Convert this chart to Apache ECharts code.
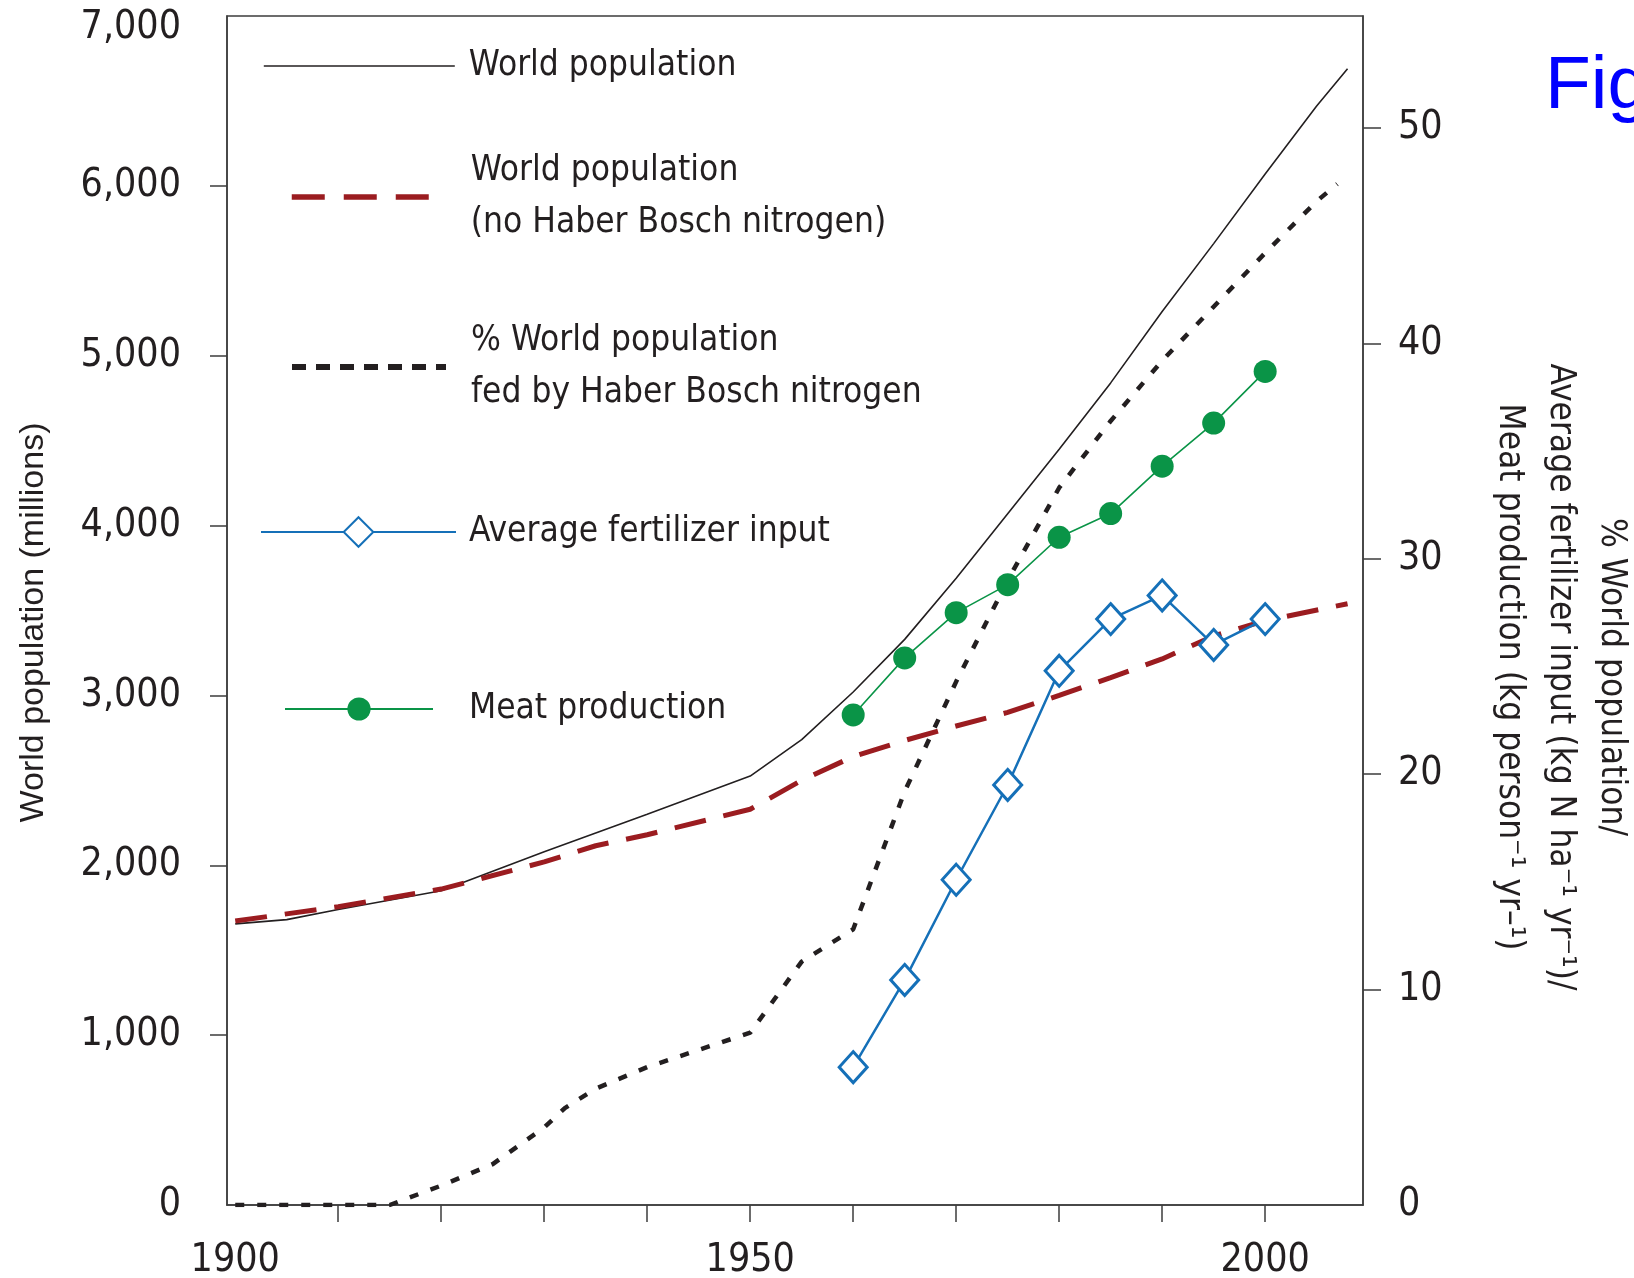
<!DOCTYPE html>
<html>
<head>
<meta charset="utf-8">
<script src="https://cdn.jsdelivr.net/npm/echarts@6/dist/echarts.min.js"></script>
<style>
html,body{margin:0;padding:0;background:#fff;}
#chart{width:1634px;height:1278px;}
</style>
</head>
<body>
<div id="chart"></div>
<script>
// ---- data ----
const popYears = [1900,1905,1910,1920,1930,1935,1940,1950,1955,1960,1965,1970,1975,1980,1985,1990,1995,2000,2005,2008];
const popValues = [1655,1680,1740,1850,2080,2190,2300,2525,2740,3020,3330,3690,4070,4450,4840,5260,5660,6070,6470,6690];

const noHBYears = [1900,1910,1920,1930,1935,1940,1950,1955,1960,1965,1970,1975,1980,1985,1990,1995,2000,2008];
const noHBValues = [1672,1756,1860,2020,2115,2180,2330,2500,2640,2735,2820,2900,3000,3105,3215,3350,3440,3540];

const hbYears = [1900,1915,1920,1925,1930,1932,1935,1940,1945,1950,1955,1960,1965,1970,1975,1980,1985,1990,1995,2000,2005,2007];
const hbValues = [0,0,0.9,1.9,3.6,4.5,5.4,6.4,7.2,8.0,11.3,12.8,19.2,24.3,29.0,33.3,36.4,39.2,41.7,44.2,46.6,47.4];

const fertYears = [1960,1965,1970,1975,1980,1985,1990,1995,2000];
const fertValues = [6.4,10.45,15.1,19.5,24.8,27.2,28.3,26.0,27.2];

const meatYears = [1960,1965,1970,1975,1980,1985,1990,1995,2000];
const meatValues = [22.75,25.4,27.5,28.8,31.0,32.1,34.3,36.3,38.7];

const xTickValues = [1910,1920,1930,1940,1950,1960,1970,1980,1990,2000];
const xLabelValues = [1900,1950,2000];
const leftTickValues = [1000,2000,3000,4000,5000,6000];
const leftLabelValues = [0,1000,2000,3000,4000,5000,6000,7000];
const rightTickValues = [10,20,30,40,50];
const rightLabelValues = [0,10,20,30,40,50];

const seriesNames = [
  'World population',
  'World population\n(no Haber Bosch nitrogen)',
  '% World population\nfed by Haber Bosch nitrogen',
  'Average fertilizer input',
  'Meat production'
];

// ---- style ----
const NARROW = "'Liberation Sans Narrow','DejaVu Sans Condensed',sans-serif";
const TXT = '#231f20';
const AX = '#3c3c3c';
const RED = '#9b1c20';
const BLUE = '#1570b8';
const GREEN = '#0a9447';

const pairs = (xs, ys) => xs.map((x, i) => [x, ys[i]]);

function legendFor(name, left, top, w, h, gap, extra) {
  return Object.assign({
    show: true, orient: 'vertical', left: left, top: top, padding: 0,
    itemWidth: w, itemHeight: h, selectedMode: false,
    data: [name],
    textStyle: {fontFamily: NARROW, fontSize: 35, color: TXT, lineHeight: 52,
      padding: [0, 0, 0, gap - 5]}
  }, extra || {});
}

const chart = echarts.init(document.getElementById('chart'), null, {renderer: 'canvas'});
chart.setOption({
  backgroundColor: '#fff',
  animation: false,
  grid: {left: 227, top: 16, right: 271, bottom: 73, containLabel: false, outerBoundsMode: 'none',
    show: true, borderColor: AX, borderWidth: 1.5, backgroundColor: 'transparent'},
  legend: [
    legendFor(seriesNames[0], 263, 40, 191, 20, 14, {itemStyle: {opacity: 0}, lineStyle: {width: 1.6}}),
    legendFor(seriesNames[1], 289, 145, 140, 20, 39, {itemStyle: {opacity: 0}, lineStyle: {width: 5.5, type: [33, 19]}}),
    legendFor(seriesNames[2], 289, 315, 154, 20, 25, {itemStyle: {opacity: 0}, lineStyle: {width: 6, type: [14, 10]}}),
    legendFor(seriesNames[3], 260, 506, 195, 37, 13),
    legendFor(seriesNames[4], 284, 683, 148, 29, 36)
  ],
  xAxis: {
    type: 'value', min: 1899.2, max: 2009.5,
    splitLine: {show: false},
    axisLine: {show: true, onZero: false, lineStyle: {color: AX, width: 1.5}},
    axisTick: {show: true, inside: false, length: 17, customValues: xTickValues, lineStyle: {color: AX, width: 1.5}},
    axisLabel: {customValues: xLabelValues, margin: 36, fontFamily: NARROW, fontSize: 39, color: TXT,
      formatter: v => String(v)}
  },
  yAxis: [
    {
      type: 'value', min: 0, max: 7000, interval: 1000, position: 'left',
      name: 'World population (millions)', nameLocation: 'middle', nameGap: 176, nameRotate: 90,
      nameTextStyle: {fontFamily: "'Liberation Sans',Arial,sans-serif", fontSize: 34, color: TXT,
        padding: [0, 24, 0, 0]},
      splitLine: {show: false},
      axisLine: {show: true, lineStyle: {color: AX, width: 1.5}},
      axisTick: {show: true, inside: false, length: 17, customValues: leftTickValues, lineStyle: {color: AX, width: 1.5}},
      axisLabel: {customValues: leftLabelValues, margin: 46, fontFamily: NARROW, fontSize: 39, color: TXT,
        formatter: v => v === 7000 ? '{t|7,000}' : echarts.format.addCommas(v),
        rich: {t: {fontFamily: NARROW, fontSize: 39, color: TXT, padding: [24, 0, 0, 0]}}}
    },
    {
      type: 'value', min: 0, max: 55.2, interval: 10, position: 'right',
      splitLine: {show: false},
      axisLine: {show: true, lineStyle: {color: AX, width: 1.5}},
      axisTick: {show: true, inside: false, length: 18, customValues: rightTickValues, lineStyle: {color: AX, width: 1.5}},
      axisLabel: {customValues: rightLabelValues, margin: 35, fontFamily: NARROW, fontSize: 39, color: TXT,
        formatter: v => String(v)}
    }
  ],
  graphic: [
    {
      type: 'text', x: 1560, y: 677, rotation: -Math.PI / 2,
      style: {
        text: '% World population/\nAverage fertilizer input (kg N ha\u207B\u00B9 yr\u207B\u00B9)/\nMeat production (kg person\u207B\u00B9 yr\u2013\u00B9)',
        fontFamily: NARROW, fontSize: 35, lineHeight: 51, fill: TXT,
        align: 'center', verticalAlign: 'middle'
      }
    },
    {
      type: 'text', x: 1545, y: 87,
      style: {text: 'Fig', fontFamily: "'Liberation Sans',Arial,sans-serif", fontSize: 75, fill: '#0000ff',
        align: 'left', verticalAlign: 'middle'}
    }
  ],
  series: [
    {
      name: seriesNames[0], type: 'line', yAxisIndex: 0, symbol: 'none', z: 3,
      data: pairs(popYears, popValues),
      lineStyle: {color: TXT, width: 1.6}, itemStyle: {color: TXT}
    },
    {
      name: seriesNames[1], type: 'line', yAxisIndex: 0, symbol: 'none', z: 3,
      data: pairs(noHBYears, noHBValues),
      lineStyle: {color: RED, width: 5, type: [32, 18]}, itemStyle: {color: RED}
    },
    {
      name: seriesNames[2], type: 'line', yAxisIndex: 1, symbol: 'none', z: 3,
      data: pairs(hbYears, hbValues),
      lineStyle: {color: TXT, width: 4.5, type: [9, 13]}, itemStyle: {color: TXT}
    },
    {
      name: seriesNames[3], type: 'line', yAxisIndex: 1, symbol: 'diamond', symbolSize: [28, 31], z: 4,
      data: pairs(fertYears, fertValues),
      lineStyle: {color: BLUE, width: 2.5},
      itemStyle: {color: '#ffffff', borderColor: BLUE, borderWidth: 3}
    },
    {
      name: seriesNames[4], type: 'line', yAxisIndex: 1, symbol: 'circle', symbolSize: 23, z: 4,
      data: pairs(meatYears, meatValues),
      lineStyle: {color: GREEN, width: 1.6},
      itemStyle: {color: GREEN}
    }
  ]
});
</script>
</body>
</html>
